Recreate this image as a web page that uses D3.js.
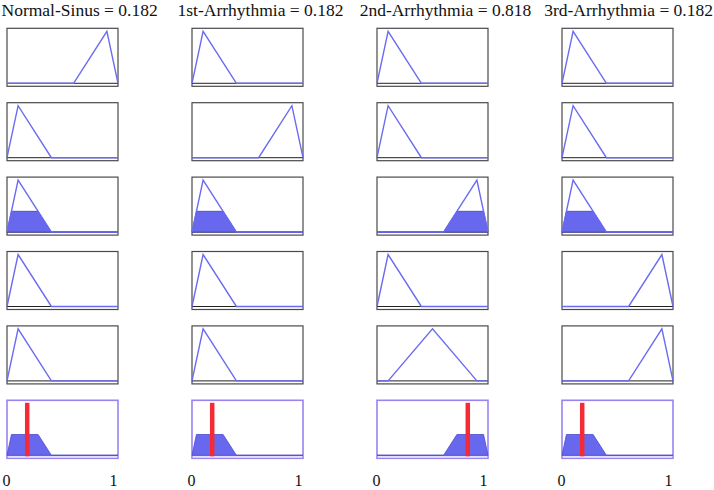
<!DOCTYPE html>
<meta charset="utf-8">
<script src="https://d3js.org/d3.v7.min.js"></script>
<style>
  body { margin: 0; background: #fff; }
  text { font-family: "Liberation Serif", "Times New Roman", serif; fill: #111; }
</style>
<svg width="714" height="490"></svg>
<script>

// outputs (columns) and their crisp values
const outputNames = ["Normal-Sinus", "1st-Arrhythmia", "2nd-Arrhythmia", "3rd-Arrhythmia"];
const outputValues = [0.182, 0.182, 0.818, 0.182];

// triangular membership functions [a, b, c]
const lowMF = [0, 0.1, 0.4];
const midMF = [0.1, 0.5, 0.9];
const highMF = [0.6, 0.9, 1.0];

// which MF each rule (row) uses for each output (column)
const ruleMFs = [
  ["high", "low", "low", "low"],
  ["low", "high", "low", "low"],
  ["low", "low", "high", "low"],
  ["low", "low", "low", "high"],
  ["low", "low", "mid", "high"]
];
// firing strength of each rule
const ruleStrength = [0, 0, 0.4, 0, 0];

const xTicks = [0, 1];

const mfByName = { low: lowMF, mid: midMF, high: highMF };

// layout
var boxW = 111, boxH = 58,
    colX = function (c) { return 7 + c * 185; },
    rowY = function (r) { return 28.3 + r * 74.4; };

var svg = d3.select("svg");

function tri(p, u) {
  var a = p[0], b = p[1], c = p[2];
  if (u <= a || u >= c) return (u === a && a === b) || (u === c && c === b) ? 1 : 0;
  return u <= b ? (u - a) / (b - a) : (c - u) / (c - b);
}

// sample points for a (clipped) triangle over [0,1]
function mfPoints(p, clip) {
  var xs = [0, p[0], p[1], p[2], 1];
  if (clip != null) {
    xs.push(p[0] + clip * (p[1] - p[0]));
    xs.push(p[2] - clip * (p[2] - p[1]));
  }
  xs = Array.from(new Set(xs)).sort(d3.ascending);
  return xs.map(function (u) {
    var v = tri(p, u);
    if (clip != null) v = Math.min(v, clip);
    return [u, v];
  });
}

outputNames.forEach(function (name, c) {
  var x0 = colX(c);

  var title = svg.append("text")
    .attr("y", 16)
    .style("font-size", "17.5px")
    .text(name + " = " + outputValues[c].toFixed(3));
  // centred a little right of the box, kept inside the page
  var tw = title.node().getComputedTextLength();
  var tx0 = Math.max(1.5, Math.min(713 - tw, x0 + boxW / 2 + 13 - tw / 2));
  title.attr("x", tx0);

  for (var r = 0; r <= ruleMFs.length; r++) {
    var y0 = rowY(r);
    var isOut = r === ruleMFs.length;
    var g = svg.append("g").attr("transform", "translate(" + x0 + "," + y0 + ")");

    var x = d3.scaleLinear().domain([0, 1]).range([0, boxW]);
    var y = d3.scaleLinear().domain([0, 1]).range([boxH - 3, 3]);

    var line = d3.line().x(function (d) { return x(d[0]); }).y(function (d) { return y(d[1]); });
    var area = d3.area().x(function (d) { return x(d[0]); }).y0(y(0)).y1(function (d) { return y(d[1]); });

    g.append("rect")
      .attr("width", boxW).attr("height", boxH)
      .attr("fill", "#fff")
      .attr("stroke", isOut ? "#9a82f0" : "#4a4a4a")
      .attr("stroke-width", isOut ? 1.6 : 1.2);

    if (isOut) {
      g.append("rect")
        .attr("x", 0.8).attr("y", y(0) + 0.5)
        .attr("width", boxW - 1.6).attr("height", boxH - y(0) - 1.3)
        .attr("fill", "#e4e2fb");
    }

    g.append("line")
      .attr("x1", 0).attr("x2", boxW)
      .attr("y1", y(0)).attr("y2", y(0))
      .attr("stroke", isOut ? "#8a8a9a" : "#222")
      .attr("stroke-width", 1);

    if (!isOut) {
      var p = mfByName[ruleMFs[r][c]];
      var s = ruleStrength[r];
      if (s > 0) {
        g.append("path")
          .attr("d", area(mfPoints(p, s)))
          .attr("fill", "#6868ef")
          .attr("stroke", "#3f3fc0")
          .attr("stroke-width", 0.8);
      }
      g.append("path")
        .attr("d", line(mfPoints(p)))
        .attr("fill", "none")
        .attr("stroke", "#6b6bf2")
        .attr("stroke-width", 1.4);
    } else {
      // aggregated output: union of clipped rule shapes
      var fired = ruleMFs.map(function (row, i) { return [mfByName[row[c]], ruleStrength[i]]; })
        .filter(function (d) { return d[1] > 0; });
      fired.forEach(function (d) {
        g.append("path")
          .attr("d", area(mfPoints(d[0], d[1])))
          .attr("fill", "#6868ef")
          .attr("stroke", "#4a4ad0")
          .attr("stroke-width", 0.8);
      });
      g.append("line")
        .attr("x1", x(outputValues[c])).attr("x2", x(outputValues[c]))
        .attr("y1", 2.5).attr("y2", y(0) + 1)
        .attr("stroke", "#f42a35")
        .attr("stroke-width", 4.5);

      var tx = d3.scaleLinear().domain([0, 1]).range([-1, boxW - 5]);
      var axis = g.append("g")
        .attr("transform", "translate(0," + (boxH + 27.5) + ")")
        .call(d3.axisBottom(tx).tickValues(xTicks).tickFormat(d3.format("d")).tickSize(0).tickPadding(0));
      axis.select(".domain").remove();
      axis.selectAll("text")
        .attr("dy", 0)
        .style("font-size", "16px")
        .style("font-family", "Liberation Serif, serif")
        .attr("fill", "#111");
    }
  }
});

</script>
